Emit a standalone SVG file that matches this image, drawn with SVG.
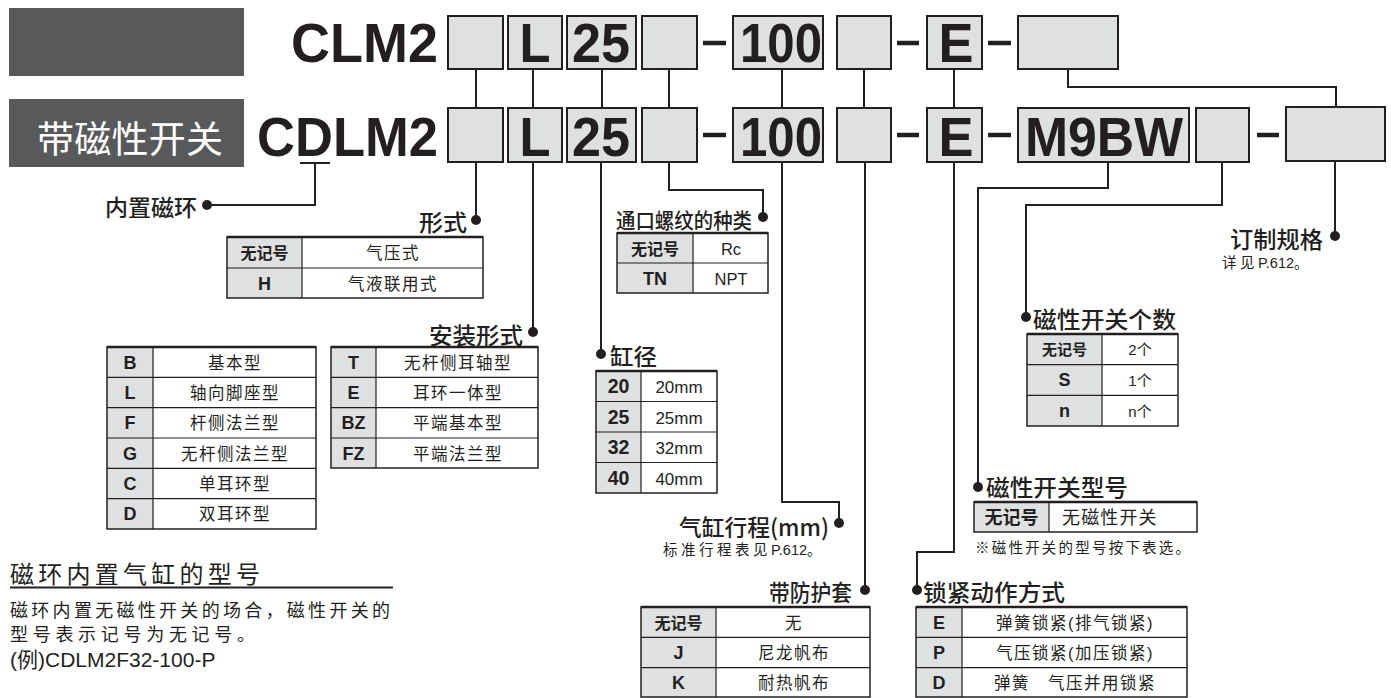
<svg xmlns="http://www.w3.org/2000/svg" width="1391" height="698" viewBox="0 0 1391 698">
<style>
.hdr{fill:#58595b}
.box{fill:#dfe0e1;stroke:#231f20;stroke-width:2}
.big{font-family:"Liberation Sans",Arial,sans-serif;font-weight:bold;font-size:56px;fill:#231f20}
.dash{stroke:#231f20;stroke-width:4.5}
.ln{fill:none;stroke:#231f20;stroke-width:2}
.dot{fill:#231f20}
.ttl{font-family:"Noto Sans CJK SC","Liberation Sans",sans-serif;font-size:23px;font-weight:500;fill:#231f20}
.note{font-family:"Liberation Sans","Noto Sans CJK SC",sans-serif;font-size:14.5px;fill:#231f20}
.cj{letter-spacing:3.5px}
.g{fill:#dfe0e1}
.tb{fill:none;stroke:#231f20;stroke-width:1.5}
.tl{stroke:#231f20;stroke-width:1.2}
.tt{stroke:#231f20;stroke-width:2.5}
.td{font-family:"Liberation Sans","Noto Sans CJK SC",sans-serif;font-size:16.5px;letter-spacing:1.5px;fill:#231f20;text-anchor:middle}
.tn{font-family:"Liberation Sans","Noto Sans CJK SC",sans-serif;font-size:16.5px;fill:#231f20;text-anchor:middle}
.tc{font-family:"Liberation Sans","Noto Sans CJK SC",sans-serif;font-size:18px;font-weight:bold;fill:#231f20;text-anchor:middle}
.tk{font-family:"Noto Sans CJK SC",sans-serif;font-size:16px;font-weight:bold;fill:#231f20;text-anchor:middle}
.par{font-family:"Liberation Sans","Noto Sans CJK SC",sans-serif;font-size:18px;fill:#231f20}
</style>

<g id="headers">
<rect class="hdr" x="9" y="8" width="235" height="68"/>
<rect class="hdr" x="9" y="99" width="235" height="68"/>
<text x="37" y="153" font-family="Noto Sans CJK SC,sans-serif" font-size="37" fill="#fff" textLength="186">带磁性开关</text>
</g>

<g id="row1">
<text class="big" x="291" y="62" textLength="147" lengthAdjust="spacingAndGlyphs">CLM2</text>
<rect class="box" x="448" y="16" width="55" height="53"/>
<rect class="box" x="508" y="16" width="54" height="53"/>
<text class="big" x="535" y="62" text-anchor="middle" textLength="31" lengthAdjust="spacingAndGlyphs">L</text>
<rect class="box" x="567" y="16" width="69" height="53"/>
<text class="big" x="601" y="62" text-anchor="middle" textLength="58" lengthAdjust="spacingAndGlyphs">25</text>
<rect class="box" x="642" y="16" width="55" height="53"/>
<line class="dash" x1="703" y1="43" x2="726" y2="43"/>
<rect class="box" x="733" y="16" width="90" height="53"/>
<text class="big" x="781" y="62" text-anchor="middle" textLength="82" lengthAdjust="spacingAndGlyphs">100</text>
<rect class="box" x="837" y="16" width="54" height="53"/>
<line class="dash" x1="897" y1="43" x2="919" y2="43"/>
<rect class="box" x="927" y="16" width="55" height="53"/>
<text class="big" x="956" y="62" text-anchor="middle" textLength="35" lengthAdjust="spacingAndGlyphs">E</text>
<line class="dash" x1="988" y1="43" x2="1011" y2="43"/>
<rect class="box" x="1018" y="16" width="100" height="53"/>
</g>

<g id="row2">
<text class="big" x="257" y="156" textLength="181" lengthAdjust="spacingAndGlyphs">CDLM2</text>
<rect class="box" x="448" y="108" width="55" height="54"/>
<rect class="box" x="508" y="108" width="54" height="54"/>
<text class="big" x="535" y="156" text-anchor="middle" textLength="31" lengthAdjust="spacingAndGlyphs">L</text>
<rect class="box" x="567" y="108" width="69" height="54"/>
<text class="big" x="601" y="156" text-anchor="middle" textLength="58" lengthAdjust="spacingAndGlyphs">25</text>
<rect class="box" x="642" y="108" width="55" height="54"/>
<line class="dash" x1="703" y1="135" x2="726" y2="135"/>
<rect class="box" x="733" y="108" width="90" height="54"/>
<text class="big" x="781" y="156" text-anchor="middle" textLength="82" lengthAdjust="spacingAndGlyphs">100</text>
<rect class="box" x="837" y="108" width="54" height="54"/>
<line class="dash" x1="897" y1="135" x2="919" y2="135"/>
<rect class="box" x="927" y="108" width="55" height="54"/>
<text class="big" x="956" y="156" text-anchor="middle" textLength="35" lengthAdjust="spacingAndGlyphs">E</text>
<line class="dash" x1="988" y1="135" x2="1011" y2="135"/>
<rect class="box" x="1018" y="108" width="171" height="54"/>
<text class="big" x="1104" y="156" text-anchor="middle" textLength="158" lengthAdjust="spacingAndGlyphs">M9BW</text>
<rect class="box" x="1196" y="108" width="53" height="54"/>
<line class="dash" x1="1257" y1="135" x2="1279" y2="135"/>
<rect class="box" x="1286" y="107" width="99" height="54"/>
</g>

<g id="connectors">
<line class="ln" x1="476" y1="69" x2="476" y2="108"/>
<line class="ln" x1="533" y1="69" x2="533" y2="108"/>
<line class="ln" x1="602" y1="69" x2="602" y2="108"/>
<line class="ln" x1="669" y1="69" x2="669" y2="108"/>
<line class="ln" x1="782" y1="69" x2="782" y2="108"/>
<line class="ln" x1="864" y1="69" x2="864" y2="108"/>
<line class="ln" x1="954" y1="69" x2="954" y2="108"/>
<polyline class="ln" points="1068,69 1068,87 1336,87 1336,107"/>
<line class="ln" x1="300" y1="163" x2="330" y2="163"/>
<polyline class="ln" points="315,163 315,205 207,205"/>
<line class="ln" x1="476" y1="162" x2="476" y2="220"/>
<line class="ln" x1="533" y1="162" x2="533" y2="332"/>
<line class="ln" x1="601" y1="162" x2="601" y2="354"/>
<polyline class="ln" points="669,162 669,190 763,190 763,217"/>
<polyline class="ln" points="782,162 782,502 839,502 839,523"/>
<line class="ln" x1="865" y1="162" x2="865" y2="590"/>
<polyline class="ln" points="954,162 954,552 917,552 917,590"/>
<polyline class="ln" points="1108,162 1108,188 978,188 978,487"/>
<polyline class="ln" points="1222,162 1222,205 1026,205 1026,317"/>
<line class="ln" x1="1335" y1="161" x2="1335" y2="236"/>
<circle class="dot" cx="207" cy="205" r="5"/>
<circle class="dot" cx="476" cy="220" r="5"/>
<circle class="dot" cx="533" cy="332" r="5"/>
<circle class="dot" cx="601" cy="354" r="5"/>
<circle class="dot" cx="763" cy="217" r="5"/>
<circle class="dot" cx="839" cy="523" r="5"/>
<circle class="dot" cx="865" cy="590" r="5"/>
<circle class="dot" cx="917" cy="590" r="5"/>
<circle class="dot" cx="978" cy="487" r="5"/>
<circle class="dot" cx="1026" cy="317" r="5"/>
<circle class="dot" cx="1335" cy="236" r="5"/>
</g>

<g id="magnet">
<text class="ttl" x="105" y="216" textLength="92" lengthAdjust="spacingAndGlyphs">内置磁环</text>
</g>

<g id="form">
<text class="ttl" x="467" y="231" text-anchor="end" textLength="48" lengthAdjust="spacingAndGlyphs">形式</text>
<rect class="g" x="227" y="237" width="75" height="61"/>
<line class="tl" x1="227" y1="268" x2="483" y2="268"/>
<line class="tl" x1="302" y1="237" x2="302" y2="298"/>
<rect class="tb" x="227" y="237" width="256" height="61"/>
<line class="tt" x1="227" y1="237" x2="483" y2="237"/>
<text class="tk" x="264.5" y="258.5">无记号</text>
<text class="td" x="393" y="258.5">气压式</text>
<text class="tc" x="264.5" y="289.5">H</text>
<text class="td" x="393" y="289.5">气液联用式</text>
</g>

<g id="mount">
<text class="ttl" x="523" y="344" text-anchor="end" textLength="94" lengthAdjust="spacingAndGlyphs">安装形式</text>
<rect class="g" x="107" y="347" width="46" height="182"/>
<line class="tl" x1="107" y1="377.3" x2="316" y2="377.3"/>
<line class="tl" x1="107" y1="407.7" x2="316" y2="407.7"/>
<line class="tl" x1="107" y1="438" x2="316" y2="438"/>
<line class="tl" x1="107" y1="468.3" x2="316" y2="468.3"/>
<line class="tl" x1="107" y1="498.7" x2="316" y2="498.7"/>
<line class="tl" x1="153" y1="347" x2="153" y2="529"/>
<rect class="tb" x="107" y="347" width="209" height="182"/>
<line class="tt" x1="107" y1="347" x2="316" y2="347"/>
<text class="tc" x="130" y="368.5">B</text>
<text class="tc" x="130" y="399">L</text>
<text class="tc" x="130" y="429">F</text>
<text class="tc" x="130" y="459.5">G</text>
<text class="tc" x="130" y="490">C</text>
<text class="tc" x="130" y="520">D</text>
<text class="td" x="235" y="368.5">基本型</text>
<text class="td" x="235" y="399">轴向脚座型</text>
<text class="td" x="235" y="429">杆侧法兰型</text>
<text class="td" x="235" y="459.5">无杆侧法兰型</text>
<text class="td" x="235" y="490">单耳环型</text>
<text class="td" x="235" y="520">双耳环型</text>

<rect class="g" x="331" y="347" width="45" height="121"/>
<line class="tl" x1="331" y1="377.3" x2="538" y2="377.3"/>
<line class="tl" x1="331" y1="407.7" x2="538" y2="407.7"/>
<line class="tl" x1="331" y1="438" x2="538" y2="438"/>
<line class="tl" x1="376" y1="347" x2="376" y2="468"/>
<rect class="tb" x="331" y="347" width="207" height="121"/>
<line class="tt" x1="331" y1="347" x2="538" y2="347"/>
<text class="tc" x="353.5" y="368.5">T</text>
<text class="tc" x="353.5" y="399">E</text>
<text class="tc" x="353.5" y="429">BZ</text>
<text class="tc" x="353.5" y="459.5">FZ</text>
<text class="td" x="458" y="368.5">无杆侧耳轴型</text>
<text class="td" x="458" y="399">耳环一体型</text>
<text class="td" x="458" y="429">平端基本型</text>
<text class="td" x="458" y="459.5">平端法兰型</text>
</g>

<g id="port">
<text class="ttl" x="616" y="228" style="font-size:21px" textLength="136" lengthAdjust="spacingAndGlyphs">通口螺纹的种类</text>
<rect class="g" x="617" y="233" width="76" height="60"/>
<line class="tl" x1="617" y1="263" x2="768" y2="263"/>
<line class="tl" x1="693" y1="233" x2="693" y2="293"/>
<rect class="tb" x="617" y="233" width="151" height="60"/>
<line class="tt" x1="617" y1="233" x2="768" y2="233"/>
<text class="tk" x="655" y="254.5">无记号</text>
<text class="tn" x="731" y="254.5">Rc</text>
<text class="tc" x="655" y="284.5">TN</text>
<text class="tn" x="731" y="284.5">NPT</text>
</g>

<g id="bore">
<text class="ttl" x="610" y="365" textLength="47" lengthAdjust="spacingAndGlyphs">缸径</text>
<rect class="g" x="596" y="371" width="45" height="122"/>
<line class="tl" x1="596" y1="401.5" x2="717" y2="401.5"/>
<line class="tl" x1="596" y1="432" x2="717" y2="432"/>
<line class="tl" x1="596" y1="462.5" x2="717" y2="462.5"/>
<line class="tl" x1="641" y1="371" x2="641" y2="493"/>
<rect class="tb" x="596" y="371" width="121" height="122"/>
<line class="tt" x1="596" y1="371" x2="717" y2="371"/>
<text class="tc" x="618.5" y="393" style="font-size:19.5px">20</text>
<text class="tc" x="618.5" y="423.5" style="font-size:19.5px">25</text>
<text class="tc" x="618.5" y="454" style="font-size:19.5px">32</text>
<text class="tc" x="618.5" y="484.5" style="font-size:19.5px">40</text>
<text class="tn" x="679" y="393" style="font-size:17px">20mm</text>
<text class="tn" x="679" y="423.5" style="font-size:17px">25mm</text>
<text class="tn" x="679" y="454" style="font-size:17px">32mm</text>
<text class="tn" x="679" y="484.5" style="font-size:17px">40mm</text>
</g>

<g id="stroke">
<text class="ttl" x="829" y="536" text-anchor="end" textLength="150" lengthAdjust="spacingAndGlyphs">气缸行程(mm)</text>
<text class="note" x="663" y="555"><tspan class="cj">标准行程表见</tspan>P.612。</text>
</g>

<g id="boot">
<text class="ttl" x="852" y="601" text-anchor="end" textLength="83" lengthAdjust="spacingAndGlyphs">带防护套</text>
<rect class="g" x="641" y="607" width="75" height="90"/>
<line class="tl" x1="641" y1="637.3" x2="870" y2="637.3"/>
<line class="tl" x1="641" y1="667.7" x2="870" y2="667.7"/>
<line class="tl" x1="716" y1="607" x2="716" y2="697"/>
<rect class="tb" x="641" y="607" width="229" height="90"/>
<line class="tt" x1="641" y1="607" x2="870" y2="607"/>
<text class="tk" x="678.5" y="628.5">无记号</text>
<text class="td" x="794" y="628.5">无</text>
<text class="tc" x="678.5" y="659">J</text>
<text class="td" x="794" y="659">尼龙帆布</text>
<text class="tc" x="678.5" y="689">K</text>
<text class="td" x="794" y="689">耐热帆布</text>
</g>

<g id="lock">
<text class="ttl" x="923" y="601" textLength="142" lengthAdjust="spacingAndGlyphs">锁紧动作方式</text>
<rect class="g" x="916" y="607" width="46" height="90"/>
<line class="tl" x1="916" y1="637.3" x2="1187" y2="637.3"/>
<line class="tl" x1="916" y1="667.7" x2="1187" y2="667.7"/>
<line class="tl" x1="962" y1="607" x2="962" y2="697"/>
<rect class="tb" x="916" y="607" width="271" height="90"/>
<line class="tt" x1="916" y1="607" x2="1187" y2="607"/>
<text class="tc" x="939" y="628.5">E</text>
<text class="tc" x="939" y="659">P</text>
<text class="tc" x="939" y="689">D</text>
<text class="td" x="1075" y="628.5">弹簧锁紧(排气锁紧)</text>
<text class="td" x="1075" y="659">气压锁紧(加压锁紧)</text>
<text class="td" x="1075" y="689">弹簧　气压并用锁紧</text>
</g>

<g id="swmodel">
<text class="ttl" x="986" y="496" textLength="142" lengthAdjust="spacingAndGlyphs">磁性开关型号</text>
<rect class="g" x="974" y="502" width="75" height="30"/>
<line class="tl" x1="1049" y1="502" x2="1049" y2="532"/>
<rect class="tb" x="974" y="502" width="223" height="30"/>
<line class="tt" x1="974" y1="502" x2="1197" y2="502"/>
<text class="tk" x="1011.5" y="524" style="font-size:18px">无记号</text>
<text class="td" x="1110" y="524" style="font-size:18px" textLength="96">无磁性开关</text>
<text class="note" x="975" y="553" textLength="215">※磁性开关的型号按下表选。</text>
</g>

<g id="swcount">
<text class="ttl" x="1033" y="328" textLength="143" lengthAdjust="spacingAndGlyphs">磁性开关个数</text>
<rect class="g" x="1027" y="334" width="75" height="92"/>
<line class="tl" x1="1027" y1="364.7" x2="1178" y2="364.7"/>
<line class="tl" x1="1027" y1="395.3" x2="1178" y2="395.3"/>
<line class="tl" x1="1102" y1="334" x2="1102" y2="426"/>
<rect class="tb" x="1027" y="334" width="151" height="92"/>
<line class="tt" x1="1027" y1="334" x2="1178" y2="334"/>
<text class="tk" x="1064.5" y="355" style="font-size:15px">无记号</text>
<text class="tc" x="1064.5" y="386">S</text>
<text class="tc" x="1064.5" y="416.5">n</text>
<text class="tn" x="1140" y="355" style="font-size:15px">2个</text>
<text class="tn" x="1140" y="386" style="font-size:15px">1个</text>
<text class="tn" x="1140" y="416.5" style="font-size:15px">n个</text>
</g>

<g id="custom">
<text class="ttl" x="1323" y="248" text-anchor="end" textLength="93" lengthAdjust="spacingAndGlyphs">订制规格</text>
<text class="note" x="1222" y="268"><tspan class="cj">详见</tspan>P.612。</text>
</g>

<g id="note-bottom">
<text x="10" y="583" font-family="Noto Sans CJK SC,sans-serif" font-size="24" fill="#231f20" textLength="250">磁环内置气缸的型号</text>
<line x1="10" y1="587.5" x2="393" y2="587.5" stroke="#231f20" stroke-width="2"/>
<text class="par" x="10" y="617" textLength="380">磁环内置无磁性开关的场合，磁性开关的</text>
<text class="par" x="10" y="641" textLength="245">型号表示记号为无记号。</text>
<text class="par" x="10" y="667" style="font-size:21px">(例)CDLM2F32-100-P</text>
</g>
</svg>
